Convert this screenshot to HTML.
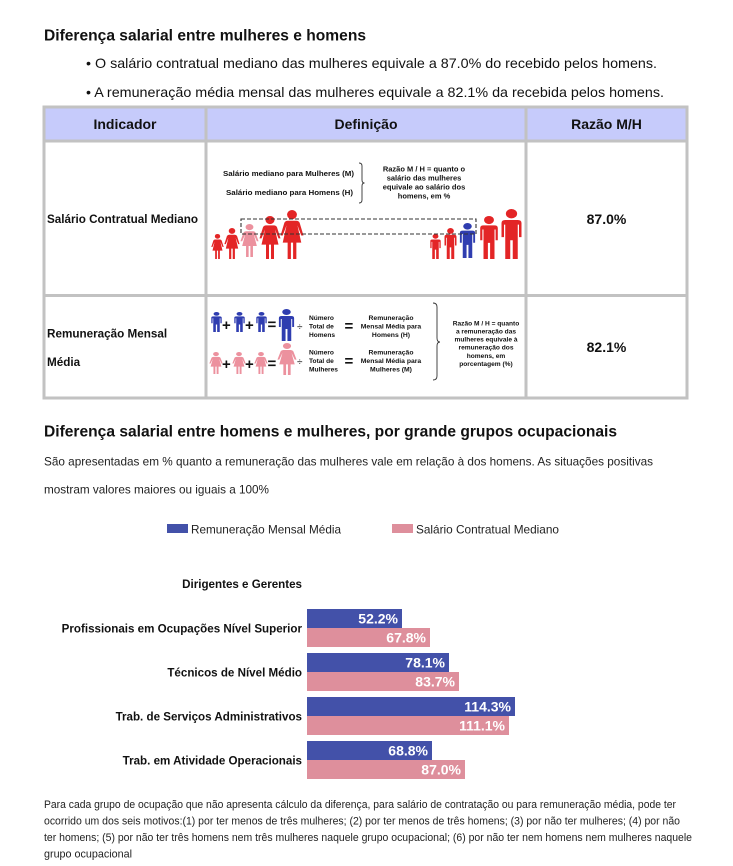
<!DOCTYPE html>
<html><head><meta charset="utf-8"><style>
html,body{margin:0;padding:0;background:#fff;}
svg{display:block;font-family:"Liberation Sans",Arial,sans-serif;}
</style></head><body>
<svg width="733" height="866" viewBox="0 0 733 866" xmlns="http://www.w3.org/2000/svg">
<defs>
<symbol id="man" viewBox="0 0 20 48" preserveAspectRatio="none">
<circle cx="10" cy="4.5" r="4.5"/>
<path d="M5,10.5 H15 Q18,10.5 18,13.5 V27 H16 V15 H15 V48 H11 V30 H9 V48 H5 V15 H4 V27 H2 V13.5 Q2,10.5 5,10.5 Z"/>
</symbol>
<symbol id="woman" viewBox="0 0 22 48" preserveAspectRatio="none">
<circle cx="11" cy="4.5" r="4.5"/>
<path d="M7,10.5 H15 Q17,10.5 18,12.5 L21.5,25 H19.5 L16,15 L19.5,32 H15 V48 H12 V32 H10 V48 H7 V32 H2.5 L6,15 L2.5,25 H0.5 L4,12.5 Q5,10.5 7,10.5 Z"/>
</symbol>
</defs>

<!-- Title 1 -->
<text x="44" y="40.5" font-size="15.5" font-weight="bold" fill="#111" textLength="322" lengthAdjust="spacingAndGlyphs">Diferença salarial entre mulheres e homens</text>
<text x="86" y="68" font-size="14" fill="#111" textLength="571" lengthAdjust="spacingAndGlyphs">• O salário contratual mediano das mulheres equivale a 87.0% do recebido pelos homens.</text>
<text x="86" y="97" font-size="14" fill="#111" textLength="578" lengthAdjust="spacingAndGlyphs">• A remuneração média mensal das mulheres equivale a 82.1% da recebida pelos homens.</text>

<!-- Table -->
<rect x="44" y="107" width="643" height="33" fill="#c6cbfb"/>
<g stroke="#c2c2c2" stroke-width="3" fill="none">
<line x1="44" y1="105.5" x2="44" y2="399.5"/>
<line x1="206" y1="105.5" x2="206" y2="399.5"/>
<line x1="526" y1="105.5" x2="526" y2="399.5"/>
<line x1="687" y1="105.5" x2="687" y2="399.5"/>
<line x1="42.5" y1="107" x2="688.5" y2="107"/>
<line x1="42.5" y1="141" x2="688.5" y2="141"/>
<line x1="42.5" y1="295.5" x2="688.5" y2="295.5"/>
<line x1="42.5" y1="398" x2="688.5" y2="398"/>
</g>
<g font-size="14" font-weight="bold" fill="#111" text-anchor="middle">
<text x="125" y="129">Indicador</text>
<text x="366" y="129">Definição</text>
<text x="606.5" y="129">Razão M/H</text>
<text x="606.5" y="224">87.0%</text>
<text x="606.5" y="352">82.1%</text>
</g>
<g font-size="11.7" font-weight="bold" fill="#111">
<text x="47" y="223" textLength="151" lengthAdjust="spacingAndGlyphs">Salário Contratual Mediano</text>
<text x="47" y="337.5">Remuneração Mensal</text>
<text x="47" y="366">Média</text>
</g>

<!-- Definition row 1 -->
<g font-size="7.2" font-weight="bold" fill="#111">
<text x="223" y="176" textLength="131" lengthAdjust="spacingAndGlyphs">Salário mediano para Mulheres (M)</text>
<text x="226" y="195" textLength="127" lengthAdjust="spacingAndGlyphs">Salário mediano para Homens (H)</text>
</g>
<path d="M359,163 q3,0 3,3 v14 q0,3 2.5,3 q-2.5,0 -2.5,3 v14 q0,3 -3,3" stroke="#333" stroke-width="0.9" fill="none"/>
<g font-size="7.5" font-weight="bold" fill="#111" text-anchor="middle">
<text x="424" y="171.5">Razão M / H = quanto o</text>
<text x="424" y="180.5">salário das mulheres</text>
<text x="424" y="189.5">equivale ao salário dos</text>
<text x="424" y="198.5">homens, em %</text>
</g>
<g fill="#e32526">
<use href="#woman" x="211" y="234" width="13" height="25"/>
<use href="#woman" x="224" y="228" width="16" height="31"/>
<use href="#woman" x="240" y="224" width="19" height="33" fill="#ec919e"/>
<use href="#woman" x="259" y="216" width="22" height="43"/>
<use href="#woman" x="280" y="210" width="24" height="49"/>
<use href="#man" x="429" y="234" width="13" height="25"/>
<use href="#man" x="443" y="228" width="15" height="31"/>
<use href="#man" x="458" y="223" width="19" height="35" fill="#2f3db0"/>
<use href="#man" x="478" y="216" width="22" height="43"/>
<use href="#man" x="499" y="209" width="25" height="50"/>
</g>
<rect x="241" y="219" width="235" height="15" fill="none" stroke="#333" stroke-width="1.1" stroke-dasharray="4 2"/>

<!-- Definition row 2 -->
<g fill="#2f3db0">
<use href="#man" x="210" y="312" width="13" height="20"/>
<use href="#man" x="233" y="312" width="13" height="20"/>
<use href="#man" x="255" y="312" width="13" height="20"/>
<use href="#man" x="277" y="309" width="19" height="32"/>
</g>
<g fill="#ec919e">
<use href="#woman" x="209" y="352" width="14" height="22"/>
<use href="#woman" x="232" y="352" width="14" height="22"/>
<use href="#woman" x="254" y="352" width="14" height="22"/>
<use href="#woman" x="277" y="343" width="20" height="32"/>
</g>
<g font-size="15" font-weight="bold" fill="#111">
<text x="222" y="330">+</text>
<text x="245" y="330">+</text>
<text x="267.5" y="329.5">=</text>
<text x="222" y="369">+</text>
<text x="245" y="369">+</text>
<text x="267.5" y="368.5">=</text>
<text x="344.5" y="331">=</text>
<text x="344.5" y="366">=</text>
</g>
<g font-size="10" fill="#111">
<text x="297" y="330">÷</text>
<text x="297" y="365">÷</text>
</g>
<g font-size="6.6" font-weight="bold" fill="#111">
<text x="309" y="320">Número</text>
<text x="309" y="328.5">Total de</text>
<text x="309" y="337">Homens</text>
<text x="309" y="354.5">Número</text>
<text x="309" y="363">Total de</text>
<text x="309" y="371.5">Mulheres</text>
</g>
<g font-size="6.8" font-weight="bold" fill="#111" text-anchor="middle">
<text x="391" y="320">Remuneração</text>
<text x="391" y="328.5">Mensal Média para</text>
<text x="391" y="337">Homens (H)</text>
<text x="391" y="354.5">Remuneração</text>
<text x="391" y="363">Mensal Média para</text>
<text x="391" y="371.5">Mulheres (M)</text>
</g>
<path d="M433,303 q4,0 4,4 v31 q0,4 3,4 q-3,0 -3,4 v30 q0,4 -4,4" stroke="#333" stroke-width="0.9" fill="none"/>
<g font-size="6.6" font-weight="bold" fill="#111" text-anchor="middle">
<text x="486" y="325.5">Razão M / H = quanto</text>
<text x="486" y="333.5">a remuneração das</text>
<text x="486" y="341.5">mulheres equivale à</text>
<text x="486" y="349.5">remuneração dos</text>
<text x="486" y="358">homens, em</text>
<text x="486" y="366">porcentagem (%)</text>
</g>

<!-- Section 2 -->
<text x="44" y="436.5" font-size="15.5" font-weight="bold" fill="#111" textLength="573" lengthAdjust="spacingAndGlyphs">Diferença salarial entre homens e mulheres, por grande grupos ocupacionais</text>
<text x="44" y="465.5" font-size="12" fill="#222" textLength="609" lengthAdjust="spacingAndGlyphs">São apresentadas em % quanto a remuneração das mulheres vale em relação à dos homens. As situações positivas</text>
<text x="44" y="493.5" font-size="12" fill="#222" textLength="225" lengthAdjust="spacingAndGlyphs">mostram valores maiores ou iguais a 100%</text>

<!-- Legend -->
<rect x="167" y="524" width="21" height="9" fill="#4351a9"/>
<text x="191" y="533.5" font-size="12" fill="#222" textLength="150" lengthAdjust="spacingAndGlyphs">Remuneração Mensal Média</text>
<rect x="392" y="524" width="21" height="9" fill="#de8f9c"/>
<text x="416" y="533.5" font-size="12" fill="#222" textLength="143" lengthAdjust="spacingAndGlyphs">Salário Contratual Mediano</text>

<!-- Chart -->
<g font-size="11.6" font-weight="bold" fill="#111" text-anchor="end">
<text x="302" y="588">Dirigentes e Gerentes</text>
<text x="302" y="632.5">Profissionais em Ocupações Nível Superior</text>
<text x="302" y="676.5">Técnicos de Nível Médio</text>
<text x="302" y="720.5">Trab. de Serviços Administrativos</text>
<text x="302" y="764.5">Trab. em Atividade Operacionais</text>
</g>
<g>
<rect x="307" y="609" width="95" height="19" fill="#4351a9"/>
<rect x="307" y="628" width="123" height="19" fill="#de8f9c"/>
<rect x="307" y="653" width="142" height="19" fill="#4351a9"/>
<rect x="307" y="672" width="152" height="19" fill="#de8f9c"/>
<rect x="307" y="697" width="208" height="19" fill="#4351a9"/>
<rect x="307" y="716" width="202" height="19" fill="#de8f9c"/>
<rect x="307" y="741" width="125" height="19" fill="#4351a9"/>
<rect x="307" y="760" width="158" height="19" fill="#de8f9c"/>
</g>
<g font-size="14" font-weight="bold" fill="#fff" text-anchor="end">
<text x="398" y="623.5">52.2%</text>
<text x="426" y="642.5">67.8%</text>
<text x="445" y="667.5">78.1%</text>
<text x="455" y="686.5">83.7%</text>
<text x="511" y="711.5">114.3%</text>
<text x="505" y="730.5">111.1%</text>
<text x="428" y="755.5">68.8%</text>
<text x="461" y="774.5">87.0%</text>
</g>

<!-- Footnote -->
<g font-size="11" fill="#222">
<text x="44" y="808" textLength="632" lengthAdjust="spacingAndGlyphs">Para cada grupo de ocupação que não apresenta cálculo da diferença, para salário de contratação ou para remuneração média, pode ter</text>
<text x="44" y="824.5" textLength="636" lengthAdjust="spacingAndGlyphs">ocorrido um dos seis motivos:(1) por ter menos de três mulheres; (2) por ter menos de três homens; (3) por não ter mulheres; (4) por não</text>
<text x="44" y="841" textLength="648" lengthAdjust="spacingAndGlyphs">ter homens; (5) por não ter três homens nem três mulheres naquele grupo ocupacional; (6) por não ter nem homens nem mulheres naquele</text>
<text x="44" y="857.5" textLength="88" lengthAdjust="spacingAndGlyphs">grupo ocupacional</text>
</g>
</svg>
</body></html>
